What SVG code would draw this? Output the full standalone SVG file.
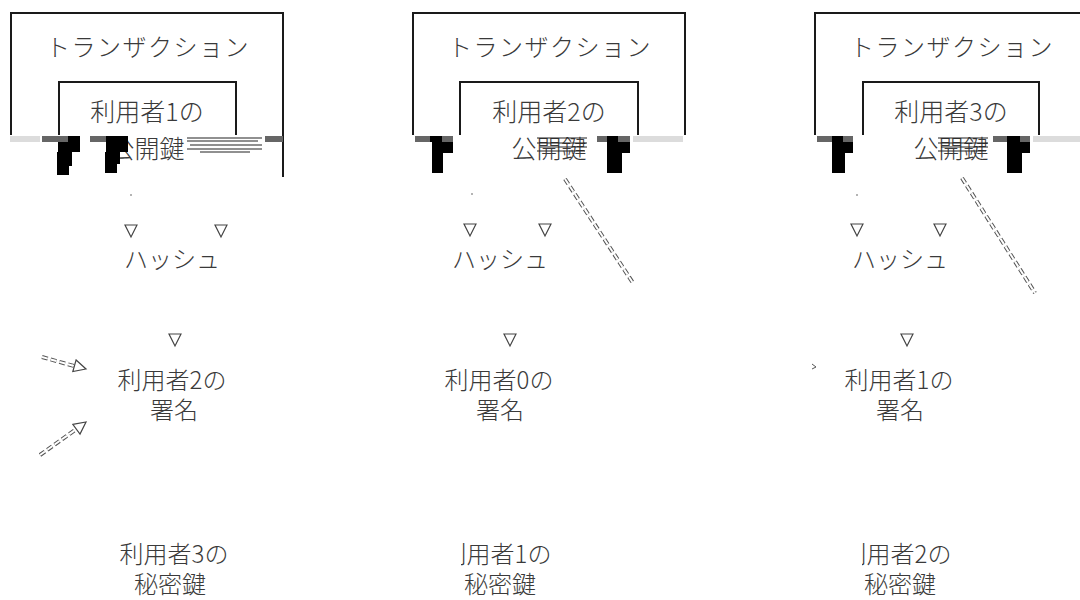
<svg xmlns="http://www.w3.org/2000/svg" width="1080" height="600" viewBox="0 0 1080 600">
<style>
.box{fill:none;stroke:#1a1a1a;stroke-width:2}
.t{font-family:"Noto Sans CJK JP","Noto Sans",sans-serif;font-weight:300;fill:#3a3a3a;text-anchor:middle}
.tt{font-size:24px;letter-spacing:1.5px}
.lb{font-size:25px}
.sm{font-size:24px}
.hs{font-size:24px}
.conn{fill:none;stroke:#ffffff;stroke-width:1}
.dsh{fill:none;stroke:#555;stroke-width:4;stroke-dasharray:6 3}
.dshi{fill:none;stroke:#fff;stroke-width:2;stroke-dasharray:6 3}
.blk{fill:#000}
.gry{fill:#dcdcdc}
.dgry{fill:#666}
.gl{stroke:#222;stroke-width:1.2}
</style>
<defs>
<marker id="ah" markerUnits="userSpaceOnUse" markerWidth="16" markerHeight="16" refX="13" refY="7" orient="auto">
<path d="M1,1 L13,7 L1,13 Z" fill="#fff" stroke="#444" stroke-width="1.2"/>
</marker>
<clipPath id="c2"><rect x="461" y="536" width="120" height="36"/></clipPath>
<clipPath id="c3"><rect x="862" y="536" width="120" height="36"/></clipPath>
</defs>
<rect width="1080" height="600" fill="#fff"/>

<g id="tx1">
<path class="box" d="M11,135 V13 H283 V177"/>
<text class="t tt" x="148" y="56">トランザクション</text>
<g id="pk1">
<path class="box" d="M59,135 V82 H236 V135"/>
<text class="t lb" x="147" y="121">利用者1の</text>
<text class="t lb" x="147" y="158">公開鍵</text>
</g>
</g>
<g id="tx2">
<path class="box" d="M413,135 V13 H685 V135"/>
<text class="t tt" x="550" y="56">トランザクション</text>
<g id="pk2">
<path class="box" d="M460,135 V82 H638 V135"/>
<text class="t lb" x="549" y="121">利用者2の</text>
<text class="t lb" x="549" y="158">公開鍵</text>
</g>
</g>
<g id="tx3">
<path class="box" d="M815,135 V13 H1081"/>
<text class="t tt" x="952" y="56">トランザクション</text>
<g id="pk3">
<path class="box" d="M863,135 V82 H1039 V135"/>
<text class="t lb" x="951" y="121">利用者3の</text>
<text class="t lb" x="951" y="158">公開鍵</text>
</g>
</g>

<g id="glitch">
<rect class="gry" x="10" y="136" width="30" height="6"/>
<rect class="dgry" x="42" y="136" width="16" height="6"/>
<rect class="dgry" x="58" y="136" width="10" height="6"/>
<rect class="blk" x="68" y="136" width="12" height="6"/>
<rect class="blk" x="58" y="142" width="22" height="10"/>
<rect class="blk" x="57" y="152" width="12" height="23"/>
<rect class="blk" x="69" y="152" width="3" height="14"/>
<rect class="dgry" x="90" y="136" width="16" height="6"/>
<rect class="blk" x="106" y="136" width="22" height="16"/>
<rect class="blk" x="105" y="152" width="12" height="21"/>
<rect class="blk" x="117" y="152" width="3" height="12"/>
<rect class="dgry" x="265" y="136" width="18" height="6"/>
<path class="gl" d="M187,138 H262 M187,141 H258 M190,145 H262 M187,149 H262 M200,152 H250"/>

<rect class="dgry" x="415" y="136" width="15" height="6"/>
<rect class="blk" x="430" y="136" width="12" height="6"/>
<rect class="dgry" x="442" y="136" width="11" height="6"/>
<rect class="blk" x="432" y="142" width="21" height="11"/>
<rect class="blk" x="432" y="153" width="11" height="20"/>
<rect class="dgry" x="597" y="136" width="10" height="6"/>
<rect class="blk" x="607" y="136" width="11" height="6"/>
<rect class="dgry" x="618" y="136" width="12" height="6"/>
<rect class="blk" x="607" y="142" width="23" height="11"/>
<rect class="blk" x="607" y="153" width="15" height="20"/>
<rect class="gry" x="633" y="136" width="50" height="6"/>
<path class="gl" d="M537,138 H587 M537,143 H587 M540,147 H587 M537,151 H585"/>

<rect class="dgry" x="817" y="136" width="15" height="6"/>
<rect class="blk" x="832" y="136" width="11" height="6"/>
<rect class="dgry" x="843" y="136" width="10" height="6"/>
<rect class="blk" x="832" y="142" width="21" height="11"/>
<rect class="blk" x="832" y="153" width="13" height="20"/>
<rect class="dgry" x="993" y="136" width="14" height="6"/>
<rect class="blk" x="1007" y="136" width="13" height="6"/>
<rect class="dgry" x="1020" y="136" width="10" height="6"/>
<rect class="blk" x="1007" y="142" width="23" height="11"/>
<rect class="blk" x="1007" y="153" width="15" height="20"/>
<rect class="gry" x="1033" y="136" width="47" height="6"/>
<path class="gl" d="M938,138 H988 M938,143 H988 M941,147 H988 M938,151 H986"/>
</g>

<g id="hash1"><text class="t hs" x="172" y="268">ハッシュ</text></g>
<g id="hash2"><text class="t hs" x="500" y="268">ハッシュ</text></g>
<g id="hash3"><text class="t hs" x="900" y="268">ハッシュ</text></g>

<g id="sig1"><text class="t sm" x="172" y="389">利用者2の</text><text class="t sm" x="174" y="419">署名</text></g>
<g id="sig2"><text class="t sm" x="499" y="389">利用者0の</text><text class="t sm" x="500" y="419">署名</text></g>
<g id="sig3"><text class="t sm" x="899" y="389">利用者1の</text><text class="t sm" x="900" y="419">署名</text></g>

<g id="key1"><text class="t sm" x="174" y="563">利用者3の</text><text class="t sm" x="170" y="593">秘密鍵</text></g>
<g id="key2"><text class="t sm" x="497" y="563" clip-path="url(#c2)">利用者1の</text><text class="t sm" x="500" y="593">秘密鍵</text></g>
<g id="key3"><text class="t sm" x="897" y="563" clip-path="url(#c3)">利用者2の</text><text class="t sm" x="900" y="593">秘密鍵</text></g>

<g id="connectors">
<path class="conn" d="M131,185 V237" marker-end="url(#ah)"/>
<path class="conn" d="M221,185 V237" marker-end="url(#ah)"/>
<path class="conn" d="M175,275 V346" marker-end="url(#ah)"/>
<path class="conn" d="M470,185 V236" marker-end="url(#ah)"/>
<path class="conn" d="M545,185 V236" marker-end="url(#ah)"/>
<path class="conn" d="M510,275 V346" marker-end="url(#ah)"/>
<path class="conn" d="M857,185 V236" marker-end="url(#ah)"/>
<path class="conn" d="M940,185 V236" marker-end="url(#ah)"/>
<path class="conn" d="M907,275 V346" marker-end="url(#ah)"/>
<circle cx="131" cy="195" r="0.8" fill="#555"/>
<circle cx="472" cy="194" r="0.8" fill="#555"/>
<circle cx="857" cy="195" r="0.8" fill="#555"/>

<path class="dsh" d="M42,357 L74,366"/>
<path class="dshi" d="M42,357 L74,366"/>
<path class="conn" d="M72,365 L86,369" marker-end="url(#ah)"/>
<path class="dsh" d="M40,455 L75,430"/>
<path class="dshi" d="M40,455 L75,430"/>
<path class="conn" d="M74,431 L86,422" marker-end="url(#ah)"/>

<path class="dsh" d="M565,179 L633,283"/>
<path class="dshi" d="M565,179 L633,283"/>
<path class="dsh" d="M962,178 L1035,293"/>
<path class="dshi" d="M962,178 L1035,293"/>
<path d="M812,364 L816,367 L812,369" fill="none" stroke="#555" stroke-width="1"/>
</g>
</svg>
